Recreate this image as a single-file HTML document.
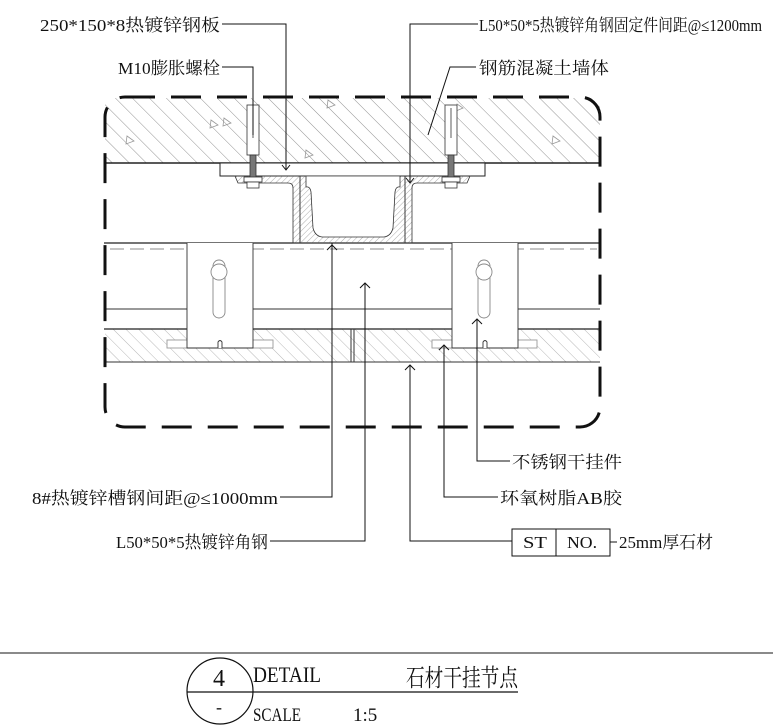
<!DOCTYPE html>
<html><head><meta charset="utf-8"><style>
html,body{margin:0;padding:0;background:#fff;}
svg{display:block;}
text{font-family:"Liberation Serif","Noto Serif CJK SC",serif;fill:#111;}
</style></head><body>
<svg width="773" height="726" viewBox="0 0 773 726" xmlns="http://www.w3.org/2000/svg">
<defs>
<pattern id="h1" width="12" height="12" patternUnits="userSpaceOnUse" patternTransform="rotate(-45)">
<line x1="0" y1="0" x2="0" y2="12" stroke="#777" stroke-width="0.8"/></pattern>
<pattern id="h2" width="4" height="4" patternUnits="userSpaceOnUse" patternTransform="rotate(45)">
<line x1="0" y1="0" x2="0" y2="4" stroke="#888" stroke-width="0.7"/></pattern>
<pattern id="h3" width="9" height="9" patternUnits="userSpaceOnUse" patternTransform="rotate(-45)">
<line x1="0" y1="0" x2="0" y2="9" stroke="#999" stroke-width="0.7"/></pattern>
</defs>
<!-- wall -->
<rect x="105" y="98" width="495" height="65" fill="url(#h1)"/>
<g fill="none" stroke="#999" stroke-width="0.8">
<path d="M127 136l7 5-8 3z M211 120l7 5-8 3z M224 118l7 5-8 3z M306 150l7 5-8 3z M328 100l7 5-8 3z M553 136l7 5-8 3z M457 104l6 4-7 3z"/>
</g>
<!-- stone -->
<rect x="105" y="329" width="495" height="33" fill="url(#h3)"/>
<line x1="104" y1="163" x2="600" y2="163" stroke="#222" stroke-width="1.5"/>
<line x1="104" y1="243" x2="600" y2="243" stroke="#222" stroke-width="1.3"/>
<line x1="110" y1="249" x2="597" y2="249" stroke="#666" stroke-width="0.8" stroke-dasharray="14,6"/>
<line x1="104" y1="309" x2="600" y2="309" stroke="#333" stroke-width="1"/>
<line x1="104" y1="329" x2="600" y2="329" stroke="#222" stroke-width="1.2"/>
<line x1="104" y1="362" x2="600" y2="362" stroke="#333" stroke-width="1"/>
<line x1="351" y1="329" x2="351" y2="362" stroke="#333"/><line x1="354" y1="329" x2="354" y2="362" stroke="#333"/>
<!-- frame -->
<rect x="105" y="97" width="495" height="330" rx="20" fill="none" stroke="#111" stroke-width="3" stroke-dasharray="30,16"/>
<!-- plate -->
<rect x="220" y="163" width="265" height="13" fill="#fff" stroke="#222"/>
<!-- channel/angles -->
<path d="M235 176 H300 V243 H293 V188 Q293 183 288 183 H238 Z" fill="url(#h2)" stroke="#333" stroke-width="0.8"/>
<path d="M470 176 H405 V243 H412 V188 Q412 183 417 183 H467 Z" fill="url(#h2)" stroke="#333" stroke-width="0.8"/>
<path d="M300 176 H405 V243 H300 Z" fill="url(#h2)" stroke="#333" stroke-width="0.8"/>
<path d="M306 187 Q310 186 311 192 L313 228 Q315 236 322 237 H384 Q391 236 393 228 L395 192 Q396 186 400 187 V176 H306 Z" fill="#fff" stroke="#333" stroke-width="0.8"/>
<!-- bolts -->
<g stroke="#333" stroke-width="0.8">
<rect x="247" y="105" width="12" height="50" fill="#fff"/>
<line x1="253" y1="108" x2="253" y2="138"/>
<rect x="250" y="155" width="6" height="27" fill="#777"/>
<rect x="244" y="177" width="18" height="5" fill="#fff"/>
<rect x="247" y="182" width="12" height="6" fill="#fff"/>
<rect x="445" y="105" width="12" height="50" fill="#fff"/>
<line x1="451" y1="108" x2="451" y2="138"/>
<rect x="448" y="155" width="6" height="27" fill="#777"/>
<rect x="442" y="177" width="18" height="5" fill="#fff"/>
<rect x="445" y="182" width="12" height="6" fill="#fff"/>
</g>
<!-- clips -->
<g fill="#fff" stroke="#333" stroke-width="0.9">
<rect x="167" y="340" width="106" height="8" stroke="#999"/>
<path d="M187 243 V348 H253 V243" />
<rect x="432" y="340" width="105" height="8" stroke="#999"/>
<path d="M452 243 V348 H518 V243"/>
<rect x="213" y="260" width="12" height="58" rx="6" stroke="#888"/>
<circle cx="219" cy="272" r="8" stroke="#888"/>
<rect x="478" y="260" width="12" height="58" rx="6" stroke="#888"/>
<circle cx="484" cy="272" r="8" stroke="#888"/>
<path d="M218 348 V342 Q220 339 222 342 V348" stroke="#333"/>
<path d="M483 348 V342 Q485 339 487 342 V348" stroke="#333"/>
</g>
<!-- leaders -->
<g fill="none" stroke="#111" stroke-width="1">
<polyline points="222,24 286,24 286,170"/>
<polyline points="282,165 286,170 290,165"/>
<polyline points="222,67 253,67 253,135"/>
<polyline points="478,24 410,24 410,183"/>
<polyline points="406,178 410,183 414,178"/>
<polyline points="476,67 450,67 428,135"/>
<polyline points="280,497 332,497 332,243"/>
<polyline points="327,250 332,245 337,250"/>
<polyline points="270,541 365,541 365,283"/>
<polyline points="360,288 365,283 370,288"/>
<polyline points="512,541 410,541 410,365"/>
<polyline points="405,370 410,365 415,370"/>
<polyline points="498,497 444,497 444,345"/>
<polyline points="439,350 444,345 449,350"/>
<polyline points="510,461 477,461 477,319"/>
<polyline points="472,324 477,319 482,324"/>
<rect x="512" y="529" width="98" height="27"/>
<line x1="556" y1="529" x2="556" y2="556"/>
<line x1="610" y1="542" x2="617" y2="542"/>
</g>
<g font-size="17">
<text x="40" y="31" textLength="180" lengthAdjust="spacingAndGlyphs">250*150*8热镀锌钢板</text>
<text x="118" y="74" textLength="102" lengthAdjust="spacingAndGlyphs">M10膨胀螺栓</text>
<text x="479" y="31" textLength="283" lengthAdjust="spacingAndGlyphs">L50*50*5热镀锌角钢固定件间距@≤1200mm</text>
<text x="479" y="74" textLength="130" lengthAdjust="spacingAndGlyphs">钢筋混凝土墙体</text>
<text x="512" y="468" textLength="110" lengthAdjust="spacingAndGlyphs">不锈钢干挂件</text>
<text x="500" y="504" textLength="122" lengthAdjust="spacingAndGlyphs">环氧树脂AB胶</text>
<text x="32" y="504" textLength="246" lengthAdjust="spacingAndGlyphs">8#热镀锌槽钢间距@≤1000mm</text>
<text x="116" y="548" textLength="152" lengthAdjust="spacingAndGlyphs">L50*50*5热镀锌角钢</text>
<text x="523" y="548" textLength="24" lengthAdjust="spacingAndGlyphs">ST</text>
<text x="567" y="548" textLength="30" lengthAdjust="spacingAndGlyphs">NO.</text>
<text x="619" y="548" textLength="94" lengthAdjust="spacingAndGlyphs">25mm厚石材</text>
</g>
<!-- title -->
<line x1="0" y1="653" x2="773" y2="653" stroke="#444" stroke-width="1.2"/>
<circle cx="220" cy="691" r="33" fill="none" stroke="#111" stroke-width="1.2"/>
<line x1="187" y1="692" x2="518" y2="692" stroke="#111" stroke-width="1.2"/>
<text x="213" y="686" font-size="24">4</text>
<text x="216" y="713" font-size="18">-</text>
<text x="253" y="682" font-size="22" textLength="68" lengthAdjust="spacingAndGlyphs">DETAIL</text>
<text x="253" y="721" font-size="19" textLength="48" lengthAdjust="spacingAndGlyphs">SCALE</text>
<text x="353" y="721" font-size="19">1:5</text>
<text x="406" y="686" font-size="24" textLength="112" lengthAdjust="spacingAndGlyphs">石材干挂节点</text>
</svg>
</body></html>
